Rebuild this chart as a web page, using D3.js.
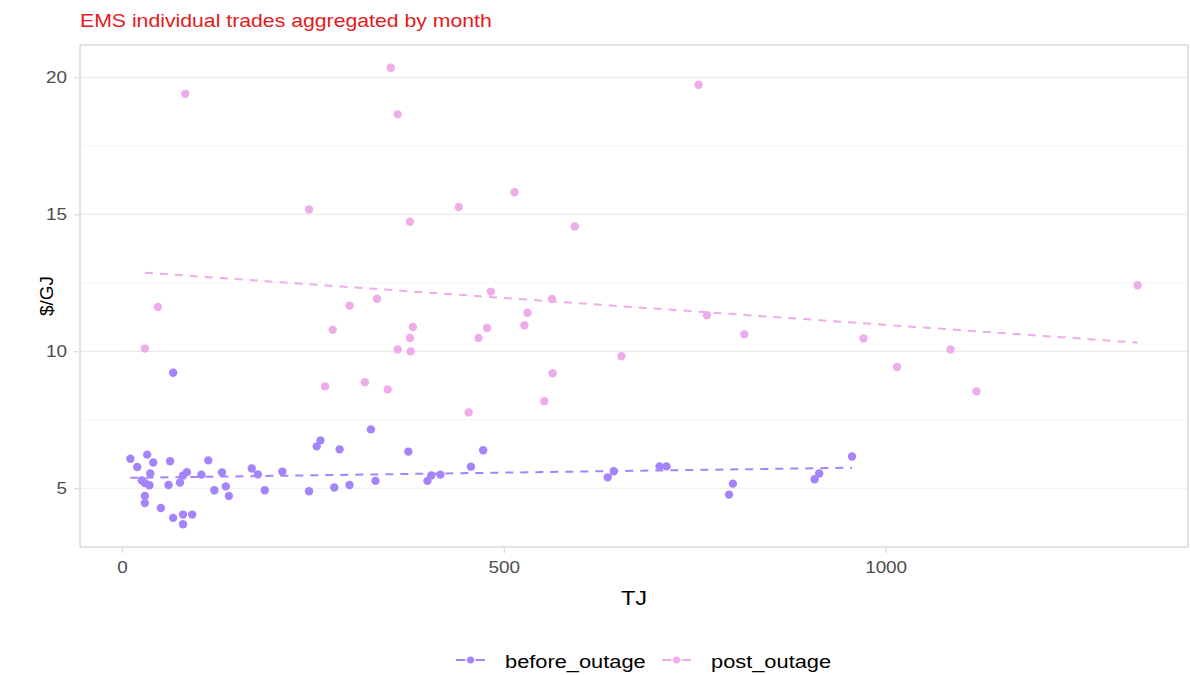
<!DOCTYPE html>
<html>
<head>
<meta charset="utf-8">
<script src="https://cdn.jsdelivr.net/npm/d3@7"></script>
<style>
  body { margin: 0; background: #fff; }
  text { font-family: "Liberation Sans", Arial, sans-serif; }
</style>
</head>
<body>
<svg id="chart" width="1190" height="675"></svg>
<script>
// before_outage: TJ, $/GJ
var beforeTJ = [67, 11, 20, 33, 41, 37, 26, 30, 36, 30, 30, 51, 63, 61, 67, 80, 80, 92, 76, 80, 85,
    104, 113, 121, 131, 136, 140, 170, 178, 187, 210, 245, 255, 260, 285, 278, 298, 326, 332,
    375, 400, 405, 417, 457, 473, 636, 644, 704, 713, 800, 795, 907, 913, 956];
var beforePrice = [9.22, 6.08, 5.78, 6.23, 5.94, 5.54, 5.29, 5.19, 5.11, 4.72, 4.46, 4.28, 5.99, 5.12, 3.92, 3.69, 4.04, 4.04, 5.21, 5.47, 5.59,
    5.5, 6.02, 4.93, 5.58, 5.07, 4.72, 5.72, 5.51, 4.93, 5.61, 4.89, 6.53, 6.75, 6.42, 5.03, 5.12, 7.15, 5.27,
    6.34, 5.27, 5.47, 5.5, 5.79, 6.39, 5.4, 5.62, 5.8, 5.8, 5.17, 4.77, 5.33, 5.54, 6.16];

// post_outage: TJ, $/GJ
var postTJ = [352, 83, 361, 245, 441, 377, 47, 298, 334, 276, 381, 377, 30, 361, 378, 467,
    755, 514, 593, 483, 563, 531, 527, 478, 766, 815, 654, 266, 318, 348, 454, 553, 564,
    1015, 1085, 1119, 971, 1330];
var postPrice = [20.35, 19.4, 18.65, 15.18, 15.27, 14.73, 11.62, 11.67, 11.92, 10.79, 10.89, 10.49, 10.1, 10.07, 10.0, 10.49,
    19.73, 15.81, 14.56, 12.18, 11.91, 11.41, 10.95, 10.85, 11.32, 10.62, 9.82, 8.72, 8.87, 8.61, 7.77, 8.18, 9.2,
    9.43, 10.07, 8.54, 10.47, 12.41];

var seriesNames = ["before_outage", "post_outage"];
var seriesColors = ["#a584fb", "#eeaceb"];
var yTicks = [5, 10, 15, 20];
var yMinor = [7.5, 12.5, 17.5];
var xTicks = [0, 500, 1000];

var series = [
    {name: seriesNames[0], color: seriesColors[0], pts: beforeTJ.map(function (d, i) { return {x: d, y: beforePrice[i]}; })},
    {name: seriesNames[1], color: seriesColors[1], pts: postTJ.map(function (d, i) { return {x: d, y: postPrice[i]}; })}
];

var margin = {top: 45, right: 2, bottom: 128, left: 80};
var W = 1190, H = 675;
var STRETCH = 1.18; // text in the reference is a bit wide
var svg = d3.select("#chart");

var allX = beforeTJ.concat(postTJ), allY = beforePrice.concat(postPrice);
var xe = d3.extent(allX), ye = d3.extent(allY);
var xpad = (xe[1] - xe[0]) * 0.05, ypad = (ye[1] - ye[0]) * 0.05;

var x = d3.scaleLinear().domain([xe[0] - xpad, xe[1] + xpad]).range([margin.left, W - margin.right]);
var y = d3.scaleLinear().domain([ye[0] - ypad, ye[1] + ypad]).range([H - margin.bottom, margin.top]);

// least squares fit, like geom_smooth(method = "lm")
function fit(pts) {
    var mx = d3.mean(pts, function (d) { return d.x; });
    var my = d3.mean(pts, function (d) { return d.y; });
    var sxy = d3.sum(pts, function (d) { return (d.x - mx) * (d.y - my); });
    var sxx = d3.sum(pts, function (d) { return (d.x - mx) * (d.x - mx); });
    var b = sxy / sxx, a = my - b * mx;
    var ex = d3.extent(pts, function (d) { return d.x; });
    return ex.map(function (v) { return {x: v, y: a + b * v}; });
}

// grid
svg.append("g").selectAll("line").data(yMinor).join("line")
    .attr("x1", margin.left).attr("x2", W - margin.right)
    .attr("y1", function (d) { return y(d); }).attr("y2", function (d) { return y(d); })
    .attr("stroke", "#f4f4f4").attr("stroke-width", 1);
svg.append("g").selectAll("line").data(yTicks).join("line")
    .attr("x1", margin.left).attr("x2", W - margin.right)
    .attr("y1", function (d) { return y(d); }).attr("y2", function (d) { return y(d); })
    .attr("stroke", "#ebebeb").attr("stroke-width", 1.1);

// panel border
svg.append("rect")
    .attr("x", margin.left).attr("y", margin.top)
    .attr("width", W - margin.left - margin.right).attr("height", H - margin.top - margin.bottom)
    .attr("fill", "none").attr("stroke", "#d9d9d9").attr("stroke-width", 1.5);

// axes
var xAxis = svg.append("g")
    .attr("transform", "translate(0," + (H - margin.bottom + 1) + ")")
    .call(d3.axisBottom(x).tickValues(xTicks).tickSize(5).tickPadding(9).tickFormat(d3.format("d")));
var yAxis = svg.append("g")
    .attr("transform", "translate(" + (margin.left - 1) + ",0)")
    .call(d3.axisLeft(y).tickValues(yTicks).tickSize(5));
[xAxis, yAxis].forEach(function (g) {
    g.select(".domain").remove();
    g.selectAll(".tick line").attr("stroke", "#d0d0d0");
    g.selectAll(".tick text").attr("fill", "#4d4d4d").style("font-size", "16px")
        .style("font-family", "'Liberation Sans', Arial, sans-serif")
        .attr("transform", "scale(" + STRETCH + ",1)");
});
yAxis.selectAll(".tick text").attr("x", -12 / STRETCH);

// trend lines
var line = d3.line().x(function (d) { return x(d.x); }).y(function (d) { return y(d.y); });
svg.append("g").selectAll("path").data(series).join("path")
    .attr("d", function (s) { return line(fit(s.pts)); })
    .attr("fill", "none").attr("stroke", function (s) { return s.color; })
    .attr("stroke-width", 2).attr("stroke-dasharray", "8,7");

// points
series.forEach(function (s) {
    svg.append("g").selectAll("circle").data(s.pts).join("circle")
        .attr("cx", function (d) { return x(d.x); })
        .attr("cy", function (d) { return y(d.y); })
        .attr("r", 4.2).attr("fill", s.color);
});

// titles
svg.append("text").attr("transform", "translate(80,27) scale(" + STRETCH + ",1)")
    .attr("fill", "#e31a1c").style("font-size", "18px")
    .text("EMS individual trades aggregated by month");
svg.append("text")
    .attr("transform", "translate(" + (margin.left + W - margin.right) / 2 + ",605) scale(" + STRETCH + ",1)")
    .attr("text-anchor", "middle").attr("fill", "#000").style("font-size", "20px").text("TJ");
svg.append("text")
    .attr("transform", "translate(53," + (margin.top + H - margin.bottom) / 2 + ") rotate(-90)")
    .attr("text-anchor", "middle").attr("fill", "#000").style("font-size", "19px").text("$/GJ");

// legend
var legend = svg.append("g").attr("transform", "translate(0,660)");
var legendX = [456, 662];
series.forEach(function (s, i) {
    var g = legend.append("g").attr("transform", "translate(" + legendX[i] + ",0)");
    g.append("line").attr("x1", 0).attr("x2", 29).attr("y1", 0).attr("y2", 0)
        .attr("stroke", s.color).attr("stroke-width", 2).attr("stroke-dasharray", "9,11,9");
    g.append("line").attr("x1", 9).attr("x2", 20).attr("y1", 0).attr("y2", 0)
        .attr("stroke", s.color).attr("stroke-width", 1).attr("opacity", 0.6);
    g.append("circle").attr("cx", 14.5).attr("cy", 0).attr("r", 3.5).attr("fill", s.color);
    g.append("text").attr("transform", "translate(49,8) scale(" + STRETCH + ",1)")
        .style("font-size", "18.5px").attr("fill", "#000").text(s.name);
});
</script>
</body>
</html>
